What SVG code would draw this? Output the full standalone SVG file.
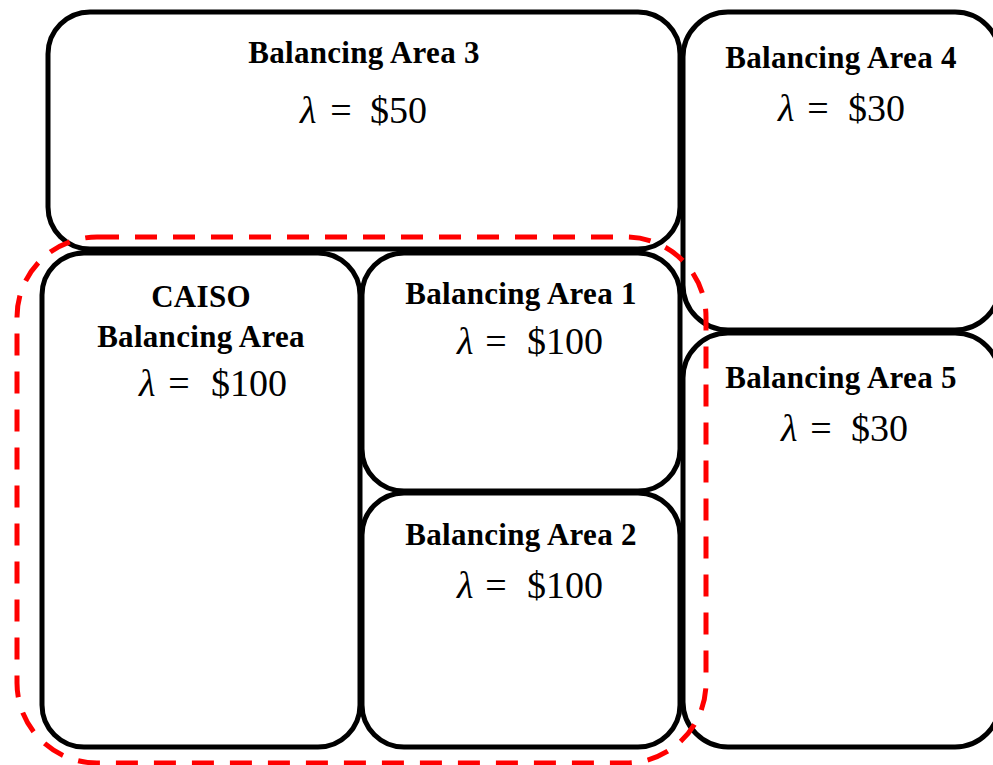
<svg xmlns="http://www.w3.org/2000/svg" width="993" height="765" viewBox="0 0 993 765">
<style>
.box{fill:#fff;stroke:#000;stroke-width:5}
.t{font-family:"Liberation Serif","Times New Roman",serif;font-weight:bold;font-size:31px;letter-spacing:0.3px;text-anchor:middle;fill:#000}
.m{font-family:"Liberation Serif","Times New Roman",serif;font-size:38px;fill:#000}
.m .l{font-style:italic}
.m .e{text-anchor:middle}
.region{fill:none;stroke:#ff0000;stroke-width:5;stroke-dasharray:22 16}
</style>
<rect width="993" height="765" fill="#fff"/>
<g id="ba3">
<rect class="box" x="48" y="12" width="632" height="237" rx="42"/>
<text class="t" x="364" y="63">Balancing Area 3</text>
<text class="m" y="123"><tspan class="l" x="300">λ</tspan><tspan class="e" x="341">=</tspan><tspan x="370">$50</tspan></text>
</g>
<g id="ba4">
<rect class="box" x="683" y="12" width="317" height="318" rx="45"/>
<text class="t" x="841" y="68">Balancing Area 4</text>
<text class="m" y="121"><tspan class="l" x="778">λ</tspan><tspan class="e" x="818">=</tspan><tspan x="848">$30</tspan></text>
</g>
<g id="ba5">
<rect class="box" x="683" y="333" width="317" height="414" rx="45"/>
<text class="t" x="841" y="388">Balancing Area 5</text>
<text class="m" y="441"><tspan class="l" x="781">λ</tspan><tspan class="e" x="821">=</tspan><tspan x="851">$30</tspan></text>
</g>
<g id="caiso">
<rect class="box" x="42" y="253" width="318" height="494" rx="42"/>
<text class="t" x="201" y="307">CAISO</text>
<text class="t" x="201" y="347">Balancing Area</text>
<text class="m" y="396"><tspan class="l" x="139">λ</tspan><tspan class="e" x="179">=</tspan><tspan x="211">$100</tspan></text>
</g>
<g id="ba1">
<rect class="box" x="362" y="253" width="318" height="238" rx="42"/>
<text class="t" x="521" y="304">Balancing Area 1</text>
<text class="m" y="354"><tspan class="l" x="457">λ</tspan><tspan class="e" x="496">=</tspan><tspan x="527">$100</tspan></text>
</g>
<g id="ba2">
<rect class="box" x="362" y="493" width="318" height="254" rx="42"/>
<text class="t" x="521" y="545">Balancing Area 2</text>
<text class="m" y="598"><tspan class="l" x="457">λ</tspan><tspan class="e" x="496">=</tspan><tspan x="527">$100</tspan></text>
</g>
<g id="connectors"></g>
<g id="dashed-region">
<rect class="region" x="17" y="237" width="689" height="526" rx="80"/>
</g>
</svg>
